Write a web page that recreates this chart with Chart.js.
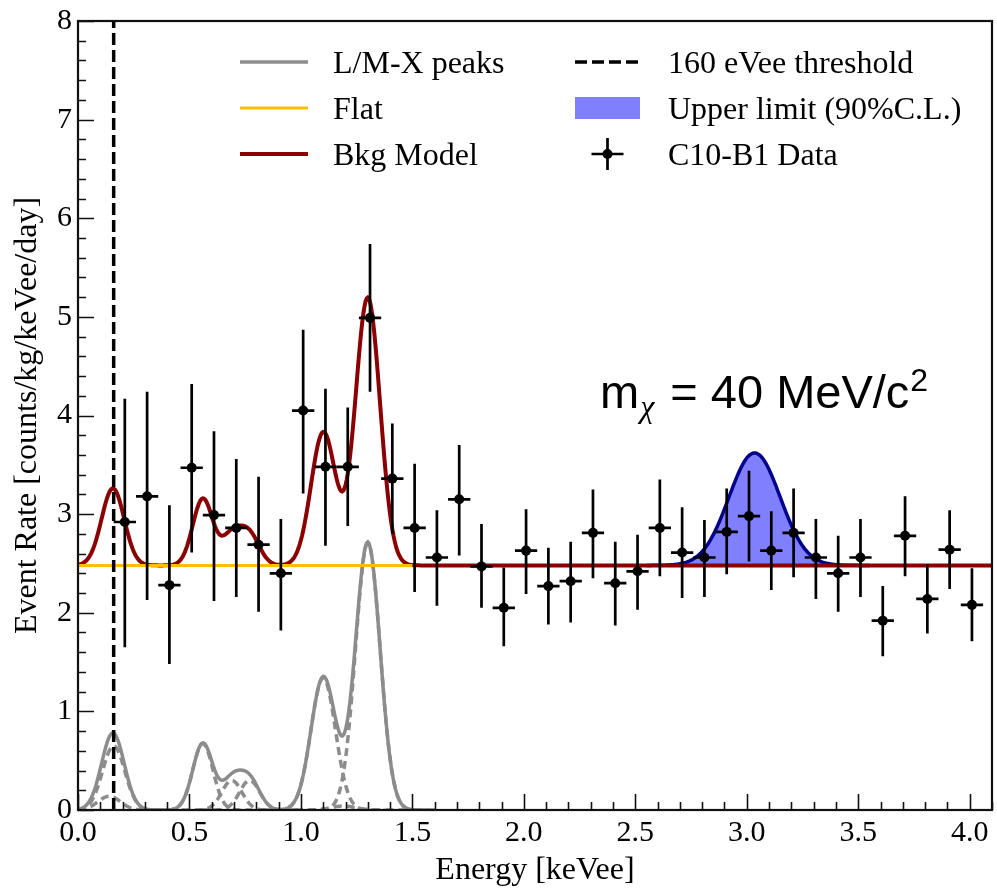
<!DOCTYPE html>
<html>
<head>
<meta charset="utf-8">
<script src="https://cdn.jsdelivr.net/npm/chart.js@4.4.1/dist/chart.umd.min.js"></script>
<style>
  html, body { margin: 0; padding: 0; background: #fff; }
  canvas { display: block; }
</style>
</head>
<body>
<canvas id="spectrum" width="997" height="888"></canvas>
<script>
// ---- Measured spectrum: bin centres [keVee], rates and asymmetric errors ----
const binCenters = [0.21, 0.31, 0.41, 0.51, 0.61, 0.71, 0.81, 0.91, 1.01, 1.11,
                    1.21, 1.31, 1.41, 1.51, 1.61, 1.71, 1.81, 1.91, 2.01, 2.11,
                    2.21, 2.31, 2.41, 2.51, 2.61, 2.71, 2.81, 2.91, 3.01, 3.11,
                    3.21, 3.31, 3.41, 3.51, 3.61, 3.71, 3.81, 3.91, 4.01];
const rate = [2.92, 3.18, 2.28, 3.47, 2.99, 2.86, 2.69, 2.40, 4.05, 3.48,
              3.48, 4.99, 3.36, 2.86, 2.56, 3.15, 2.47, 2.05, 2.63, 2.27,
              2.32, 2.81, 2.30, 2.42, 2.86, 2.61, 2.56, 2.82, 2.98, 2.63,
              2.81, 2.56, 2.40, 2.56, 1.92, 2.78, 2.14, 2.64, 2.08];
const errUp = [1.25, 1.06, 0.81, 0.85, 0.85, 0.70, 0.69, 0.55, 0.82, 0.79,
               0.60, 0.75, 0.56, 0.65, 0.48, 0.55, 0.43, 0.41, 0.42, 0.39,
               0.40, 0.44, 0.42, 0.37, 0.49, 0.46, 0.38, 0.44, 0.46, 0.40,
               0.45, 0.39, 0.38, 0.39, 0.35, 0.40, 0.35, 0.40, 0.37];
const errDown = [1.27, 1.05, 0.80, 0.86, 0.87, 0.70, 0.68, 0.58, 0.84, 0.80,
                 0.60, 0.75, 0.56, 0.65, 0.49, 0.57, 0.42, 0.39, 0.44, 0.39,
                 0.42, 0.46, 0.43, 0.39, 0.49, 0.46, 0.40, 0.43, 0.46, 0.40,
                 0.45, 0.42, 0.39, 0.40, 0.36, 0.41, 0.35, 0.40, 0.37];
const binHalfWidth = 0.05;

// ---- Background model: flat level plus L/M-shell X-ray peaks ----
const flatLevel = 2.48;
const flatEnd = 1.5;
const peakCenters = [0.14, 0.16, 0.56, 0.69, 0.77, 1.10, 1.19, 1.30];
const peakHeights = [0.14, 0.65, 0.675, 0.30, 0.30, 1.34, 0.04, 2.71];
const peakSigmas  = [0.05, 0.05, 0.045, 0.045, 0.045, 0.055, 0.055, 0.055];

// ---- Dark-matter signal at the 90% C.L. upper limit ----
const signalCenter = 3.035;
const signalHeight = 1.14;
const signalSigma = 0.115;
const signalSpan = [2.55, 3.55];

const thresholdKeV = 0.16;

// ---- Axes ----
const xRange = [0, 4.1];
const yRange = [0, 8];
const xTicks = [0, 0.5, 1.0, 1.5, 2.0, 2.5, 3.0, 3.5, 4.0];
const yTicks = [0, 1, 2, 3, 4, 5, 6, 7, 8];
const xMinorStep = 0.1;
const yMinorStep = 0.2;

// ---- Line shapes evaluated on a fine energy grid ----
const gauss = (x, c, h, s) => h * Math.exp(-0.5 * ((x - c) / s) ** 2);
const energyGrid = [];
for (let i = 0; i <= 820; i++) energyGrid.push(+(i * 0.005).toFixed(3));
const peakSum = x => peakCenters.reduce((a, c, i) => a + gauss(x, c, peakHeights[i], peakSigmas[i]), 0);

const SERIF = '"Liberation Serif", "Times New Roman", serif';
const SANS = '"Liberation Sans", Arial, Helvetica, sans-serif';
const COL = {
  gray: '#8c8c8c',
  flat: '#ffbf00',
  model: '#8b0000',
  navy: '#00008b',
  fill: '#8080ff',
  black: '#000000'
};

const datasets = [];
datasets.push({
  label: 'C10-B1 Data',
  data: binCenters.map((x, i) => ({ x, y: rate[i] })),
  showLine: false,
  pointRadius: 5,
  pointHoverRadius: 5,
  pointBackgroundColor: COL.black,
  pointBorderColor: COL.black,
  pointBorderWidth: 0,
  order: 1
});
datasets.push({
  label: '160 eVee threshold',
  data: [{ x: thresholdKeV, y: yRange[0] }, { x: thresholdKeV, y: yRange[1] }],
  showLine: true, borderColor: COL.black, borderWidth: 3.5, borderDash: [12, 5],
  pointRadius: 0, order: 2
});
datasets.push({
  label: 'Flat',
  data: [{ x: xRange[0], y: flatLevel }, { x: flatEnd, y: flatLevel }],
  showLine: true, borderColor: COL.flat, borderWidth: 3, pointRadius: 0, order: 3
});
datasets.push({
  label: 'Bkg Model',
  data: energyGrid.map(x => ({ x, y: flatLevel + peakSum(x) })),
  showLine: true, borderColor: COL.model, borderWidth: 4, pointRadius: 0, order: 4
});
datasets.push({
  label: 'Upper limit (90%C.L.)',
  data: energyGrid.filter(x => x >= signalSpan[0] && x <= signalSpan[1])
                  .map(x => ({ x, y: flatLevel + gauss(x, signalCenter, signalHeight, signalSigma) })),
  showLine: true, borderColor: COL.navy, borderWidth: 3.5, pointRadius: 0,
  backgroundColor: COL.fill, fill: { value: flatLevel }, order: 5
});
datasets.push({
  label: 'L/M-X peaks',
  data: energyGrid.filter(x => x <= 1.6).map(x => ({ x, y: peakSum(x) })),
  showLine: true, borderColor: COL.gray, borderWidth: 3.5, pointRadius: 0, order: 6
});
peakCenters.forEach((c, i) => {
  datasets.push({
    label: 'component ' + c,
    data: energyGrid.filter(x => Math.abs(x - c) < 5 * peakSigmas[i])
                    .map(x => ({ x, y: gauss(x, c, peakHeights[i], peakSigmas[i]) })),
    showLine: true, borderColor: COL.gray, borderWidth: 3.5, borderDash: [8, 5],
    pointRadius: 0, order: 7
  });
});

// Vertical and horizontal error bars for the data points
const errorBars = {
  id: 'errorBars',
  afterDatasetsDraw(chart) {
    const { ctx, scales: { x, y } } = chart;
    ctx.save();
    ctx.strokeStyle = COL.black;
    ctx.lineWidth = 2.7;
    binCenters.forEach((e, i) => {
      const px = x.getPixelForValue(e);
      const py = y.getPixelForValue(rate[i]);
      ctx.beginPath();
      ctx.moveTo(px, y.getPixelForValue(rate[i] + errUp[i]));
      ctx.lineTo(px, y.getPixelForValue(rate[i] - errDown[i]));
      ctx.moveTo(x.getPixelForValue(e - binHalfWidth), py);
      ctx.lineTo(x.getPixelForValue(e + binHalfWidth), py);
      ctx.stroke();
    });
    ctx.restore();
  }
};

// Box frame with inward major/minor ticks on the bottom and left axes
const frameTicks = {
  id: 'frameTicks',
  afterDraw(chart) {
    const { ctx, chartArea: { left, right, top, bottom }, scales: { x, y } } = chart;
    ctx.save();
    ctx.strokeStyle = '#111';
    ctx.lineWidth = 1.6;
    ctx.beginPath();
    const nx = Math.round((xRange[1] - xRange[0]) / xMinorStep);
    for (let k = 0; k <= nx; k++) {
      const v = xRange[0] + k * xMinorStep;
      const px = Math.round(x.getPixelForValue(v)) + 0.5;
      const major = xTicks.some(t => Math.abs(t - v) < 1e-6);
      ctx.moveTo(px, bottom);
      ctx.lineTo(px, bottom - (major ? 16 : 8));
    }
    const ny = Math.round((yRange[1] - yRange[0]) / yMinorStep);
    for (let k = 0; k <= ny; k++) {
      const v = yRange[0] + k * yMinorStep;
      const py = Math.round(y.getPixelForValue(v)) + 0.5;
      const major = yTicks.some(t => Math.abs(t - v) < 1e-6);
      ctx.moveTo(left, py);
      ctx.lineTo(left + (major ? 16 : 8), py);
    }
    ctx.stroke();
    ctx.lineWidth = 2.2;
    ctx.strokeRect(left, top, right - left, bottom - top);
    ctx.restore();
  }
};

// Two-column legend drawn inside the plot
const legendBox = {
  id: 'legendBox',
  afterDraw(chart) {
    const { ctx } = chart;
    const rows = [62, 108, 154];
    const col1 = { x0: 240, x1: 308, tx: 333 };
    const col2 = { x0: 575, x1: 640, tx: 668 };
    ctx.save();
    ctx.font = '32px ' + SERIF;
    ctx.fillStyle = COL.black;
    ctx.textBaseline = 'alphabetic';
    const line = (c, yy, color, w, dash) => {
      ctx.save();
      ctx.strokeStyle = color; ctx.lineWidth = w; ctx.setLineDash(dash || []);
      ctx.beginPath(); ctx.moveTo(c.x0, yy); ctx.lineTo(c.x1, yy); ctx.stroke();
      ctx.restore();
    };
    line(col1, rows[0], COL.gray, 3.5);
    ctx.fillText('L/M-X peaks', col1.tx, rows[0] + 11);
    line(col1, rows[1], COL.flat, 3);
    ctx.fillText('Flat', col1.tx, rows[1] + 11);
    line(col1, rows[2], COL.model, 4);
    ctx.fillText('Bkg Model', col1.tx, rows[2] + 11);

    line(col2, rows[0], COL.black, 3.5, [12, 5]);
    ctx.fillText('160 eVee threshold', col2.tx, rows[0] + 11);
    ctx.fillStyle = COL.fill;
    ctx.fillRect(col2.x0, rows[1] - 11, col2.x1 - col2.x0, 22);
    ctx.fillStyle = COL.black;
    ctx.fillText('Upper limit (90%C.L.)', col2.tx, rows[1] + 11);
    const mx = (col2.x0 + col2.x1) / 2;
    ctx.strokeStyle = COL.black; ctx.lineWidth = 2.7;
    ctx.beginPath();
    ctx.moveTo(mx - 16, rows[2]); ctx.lineTo(mx + 16, rows[2]);
    ctx.moveTo(mx, rows[2] - 16); ctx.lineTo(mx, rows[2] + 16);
    ctx.stroke();
    ctx.beginPath(); ctx.arc(mx, rows[2], 5, 0, Math.PI * 2); ctx.fill();
    ctx.fillText('C10-B1 Data', col2.tx, rows[2] + 11);
    ctx.restore();
  }
};

// Dark-matter mass annotation: m_chi = 40 MeV/c^2
const massLabel = {
  id: 'massLabel',
  afterDraw(chart) {
    const { ctx } = chart;
    const base = 408;
    ctx.save();
    ctx.fillStyle = COL.black;
    ctx.textBaseline = 'alphabetic';
    ctx.font = '47px ' + SANS;
    let x = 600;
    ctx.fillText('m', x, base);
    x += ctx.measureText('m').width + 1;
    ctx.font = 'italic 32px ' + SERIF;
    ctx.fillText('\u03c7', x, base + 9);
    x += ctx.measureText('\u03c7').width + 3;
    ctx.font = '47px ' + SANS;
    const main = ' = 40 MeV/c';
    ctx.fillText(main, x, base);
    x += ctx.measureText(main).width + 1;
    ctx.font = '32px ' + SANS;
    ctx.fillText('2', x, base - 17);
    ctx.restore();
  }
};

new Chart(document.getElementById('spectrum'), {
  type: 'scatter',
  data: { datasets },
  options: {
    responsive: false,
    animation: false,
    devicePixelRatio: 1,
    layout: { padding: { top: 21, right: 2, left: 0, bottom: 0 } },
    plugins: {
      legend: { display: false },
      tooltip: { enabled: false }
    },
    elements: { line: { tension: 0 } },
    scales: {
      x: {
        type: 'linear', min: xRange[0], max: xRange[1],
        afterBuildTicks: s => { s.ticks = xTicks.map(v => ({ value: v })); },
        afterFit: s => { s.height = 78; s.paddingLeft = 0; s.paddingRight = 0; },
        grid: { display: false, drawTicks: false },
        border: { display: false },
        ticks: {
          callback: v => Number(v).toFixed(1),
          font: { family: SERIF, size: 30 }, color: COL.black,
          padding: 5, maxRotation: 0, autoSkip: false
        },
        title: {
          display: true, text: 'Energy [keVee]', color: COL.black,
          font: { family: SERIF, size: 32, lineHeight: 1 },
          padding: { top: 0, bottom: 1 }
        }
      },
      y: {
        type: 'linear', min: yRange[0], max: yRange[1],
        afterBuildTicks: s => { s.ticks = yTicks.map(v => ({ value: v })); },
        afterFit: s => { s.width = 78; s.paddingTop = 0; s.paddingBottom = 0; },
        grid: { display: false, drawTicks: false },
        border: { display: false },
        ticks: {
          callback: v => String(v),
          font: { family: SERIF, size: 30 }, color: COL.black,
          padding: 6, autoSkip: false
        },
        title: {
          display: true, text: 'Event Rate [counts/kg/keVee/day]', color: COL.black,
          font: { family: SERIF, size: 32, lineHeight: 1 },
          padding: { top: 12, bottom: 0 }
        }
      }
    }
  },
  plugins: [errorBars, frameTicks, legendBox, massLabel]
});
</script>
</body>
</html>
